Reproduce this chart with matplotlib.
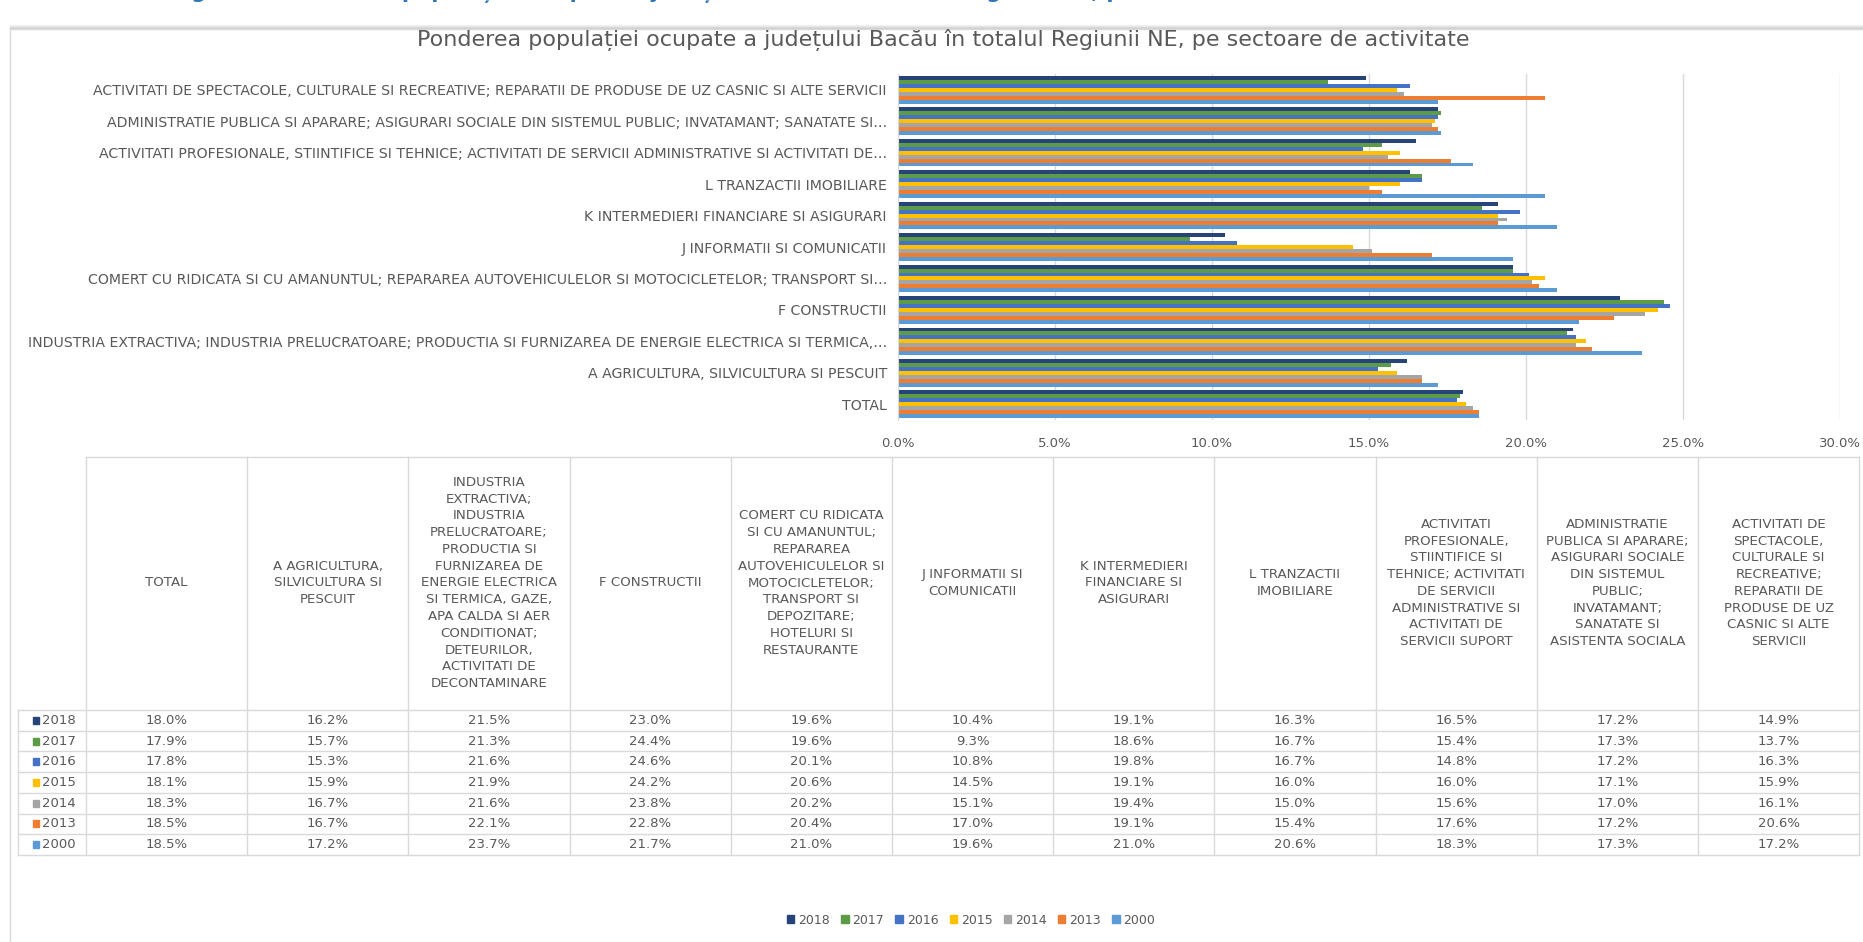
import matplotlib
matplotlib.use("Agg")
import matplotlib.pyplot as plt
from matplotlib.patches import Rectangle

plt.rcParams['font.family'] = ['DejaVu Sans']

# ----------------------------
# Data
# ----------------------------
years = ['2018', '2017', '2016', '2015', '2014', '2013', '2000']
colors = ['#264478', '#5E9B46', '#4472C4', '#FFC000', '#A5A5A5', '#ED7D31', '#5B9BD5']

# category names as cut on the bar axis (bottom to top)
axis_labels = [
    "TOTAL",
    "A AGRICULTURA, SILVICULTURA SI PESCUIT",
    "INDUSTRIA EXTRACTIVA; INDUSTRIA PRELUCRATOARE; PRODUCTIA SI FURNIZAREA DE ENERGIE ELECTRICA SI TERMICA,…",
    "F CONSTRUCTII",
    "COMERT CU RIDICATA SI CU AMANUNTUL; REPARAREA AUTOVEHICULELOR SI MOTOCICLETELOR; TRANSPORT SI…",
    "J INFORMATII SI COMUNICATII",
    "K INTERMEDIERI FINANCIARE SI ASIGURARI",
    "L TRANZACTII IMOBILIARE",
    "ACTIVITATI PROFESIONALE, STIINTIFICE SI TEHNICE; ACTIVITATI DE SERVICII ADMINISTRATIVE SI ACTIVITATI DE…",
    "ADMINISTRATIE PUBLICA SI APARARE; ASIGURARI SOCIALE DIN SISTEMUL PUBLIC; INVATAMANT; SANATATE SI…",
    "ACTIVITATI DE SPECTACOLE, CULTURALE SI RECREATIVE; REPARATII DE PRODUSE DE UZ CASNIC SI ALTE SERVICII",
]

# full names in the data table header
table_headers = [
    "TOTAL",
    "A AGRICULTURA,\nSILVICULTURA SI\nPESCUIT",
    "INDUSTRIA\nEXTRACTIVA;\nINDUSTRIA\nPRELUCRATOARE;\nPRODUCTIA SI\nFURNIZAREA DE\nENERGIE ELECTRICA\nSI TERMICA, GAZE,\n"
    "APA CALDA SI AER\nCONDITIONAT;\nDETEURILOR,\nACTIVITATI DE\nDECONTAMINARE",
    "F CONSTRUCTII",
    "COMERT CU RIDICATA\nSI CU AMANUNTUL;\nREPARAREA\nAUTOVEHICULELOR SI\nMOTOCICLETELOR;\nTRANSPORT SI\nDEPOZITARE;\n"
    "HOTELURI SI\nRESTAURANTE",
    "J INFORMATII SI\nCOMUNICATII",
    "K INTERMEDIERI\nFINANCIARE SI\nASIGURARI",
    "L TRANZACTII\nIMOBILIARE",
    "ACTIVITATI\nPROFESIONALE,\nSTIINTIFICE SI\nTEHNICE; ACTIVITATI\nDE SERVICII\nADMINISTRATIVE SI\nACTIVITATI DE\nSERVICII SUPORT",
    "ADMINISTRATIE\nPUBLICA SI APARARE;\nASIGURARI SOCIALE\nDIN SISTEMUL\nPUBLIC;\nINVATAMANT;\nSANATATE SI\nASISTENTA SOCIALA",
    "ACTIVITATI DE\nSPECTACOLE,\nCULTURALE SI\nRECREATIVE;\nREPARATII DE\nPRODUSE DE UZ\nCASNIC SI ALTE\nSERVICII",
]

# shares (%) per year, same order as the categories
v2018 = [18.0, 16.2, 21.5, 23.0, 19.6, 10.4, 19.1, 16.3, 16.5, 17.2, 14.9]
v2017 = [17.9, 15.7, 21.3, 24.4, 19.6, 9.3, 18.6, 16.7, 15.4, 17.3, 13.7]
v2016 = [17.8, 15.3, 21.6, 24.6, 20.1, 10.8, 19.8, 16.7, 14.8, 17.2, 16.3]
v2015 = [18.1, 15.9, 21.9, 24.2, 20.6, 14.5, 19.1, 16.0, 16.0, 17.1, 15.9]
v2014 = [18.3, 16.7, 21.6, 23.8, 20.2, 15.1, 19.4, 15.0, 15.6, 17.0, 16.1]
v2013 = [18.5, 16.7, 22.1, 22.8, 20.4, 17.0, 19.1, 15.4, 17.6, 17.2, 20.6]
v2000 = [18.5, 17.2, 23.7, 21.7, 21.0, 19.6, 21.0, 20.6, 18.3, 17.3, 17.2]
series = [v2018, v2017, v2016, v2015, v2014, v2013, v2000]

title = "Ponderea populației ocupate a județului Bacău în totalul Regiunii NE, pe sectoare de activitate"
caption = "Figura 6. Ponderea populației ocupate a județului Bacău în totalul Regiunii NE, pe sectoare de activitate"

txt = '#595959'
grid = '#D9D9D9'

# ----------------------------
# Figure
# ----------------------------
W, H = 1863, 942
fig = plt.figure(figsize=(W / 100, H / 100), dpi=100)
fig.patch.set_facecolor('white')

# overlay in pixel coordinates for frame, title and table
ov = fig.add_axes([0, 0, 1, 1], zorder=0)
ov.set_xlim(0, W)
ov.set_ylim(H, 0)
ov.axis('off')

# caption above the chart, cut off by the screenshot (only descenders show)
ov.text(170, -2, caption, color='#2E75B6', fontsize=15, fontweight='bold',
        ha='left', va='baseline')

# chart frame with a soft shadow
for k, a in enumerate([0.04, 0.07, 0.11, 0.16]):
    ov.plot([10, W], [25 + k, 25 + k], color='#000000', alpha=a, lw=1)
ov.plot([10, W], [29, 29], color=grid, lw=1)
ov.plot([10, 10], [29, H], color=grid, lw=1)

ov.text(943, 40, title, color=txt, fontsize=16, ha='center', va='center')

# ----------------------------
# Bar chart
# ----------------------------
x0, x1 = 898, 1840
y_top, y_bot = 74, 420
ax = fig.add_axes([x0 / W, 1 - y_bot / H, (x1 - x0) / W, (y_bot - y_top) / H], zorder=1)
ax.patch.set_alpha(0)

n = len(years)
h = 0.88 / n
for j, (yr, vals, c) in enumerate(zip(years, series, colors)):
    pos = [i + (n - 1) / 2 * h - j * h for i in range(len(vals))]
    ax.barh(pos, vals, height=h, color=c, label=yr, zorder=2)

ax.set_xlim(0, 30)
ax.set_ylim(-0.5, len(axis_labels) - 0.5)
ax.set_xticks(range(0, 31, 5))
ax.set_xticklabels([f"{t:.1f}%" for t in range(0, 31, 5)], color=txt, fontsize=9.5)
ax.set_yticks(range(len(axis_labels)))
ax.set_yticklabels(axis_labels, color=txt, fontsize=10.2)
ax.tick_params(length=0, axis='both')
ax.tick_params(axis='x', pad=12)
ax.tick_params(axis='y', pad=8)
ax.grid(axis='x', color=grid, lw=1, zorder=0)
for s in ['top', 'right', 'bottom']:
    ax.spines[s].set_visible(False)
ax.spines['left'].set_color(grid)

# ----------------------------
# Data table
# ----------------------------
col_edges = [86 + k * 161.2 for k in range(len(table_headers) + 1)]
head_top, head_bot = 457, 710
row_h = 20.7
rows_bot = head_bot + row_h * n
tl = '#D9D9D9'

ov.plot([col_edges[0], col_edges[-1]], [head_top, head_top], color=tl, lw=1)
for xe in col_edges:
    ov.plot([xe, xe], [head_top, rows_bot], color=tl, lw=1)
ov.plot([18, 18], [head_bot, rows_bot], color=tl, lw=1)
for r in range(n + 1):
    yy = head_bot + r * row_h
    ov.plot([18, col_edges[-1]], [yy, yy], color=tl, lw=1)

for k, lab in enumerate(table_headers):
    xc = (col_edges[k] + col_edges[k + 1]) / 2
    ov.text(xc, 583, lab, color=txt, fontsize=9.6, ha='center', va='center',
            linespacing=1.38)

for r, (yr, vals, c) in enumerate(zip(years, series, colors)):
    yc = head_bot + (r + 0.5) * row_h
    ov.add_patch(Rectangle((33, yc - 3.5), 6, 7, color=c))
    ov.text(42, yc, yr, color=txt, fontsize=9.5, ha='left', va='center')
    for k, v in enumerate(vals):
        xc = (col_edges[k] + col_edges[k + 1]) / 2
        ov.text(xc, yc, f"{v:.1f}%", color=txt, fontsize=9.5, ha='center', va='center')

# ----------------------------
# Legend
# ----------------------------
handles = [Rectangle((0, 0), 1, 1, color=c) for c in colors]
fig.legend(handles, years, loc='center', bbox_to_anchor=(971 / W, 1 - 920 / H),
           ncol=n, frameon=False, fontsize=9, labelcolor=txt,
           handlelength=0.6, handleheight=0.6, handletextpad=0.3, columnspacing=0.9)

fig.savefig("out.png", dpi=100)
